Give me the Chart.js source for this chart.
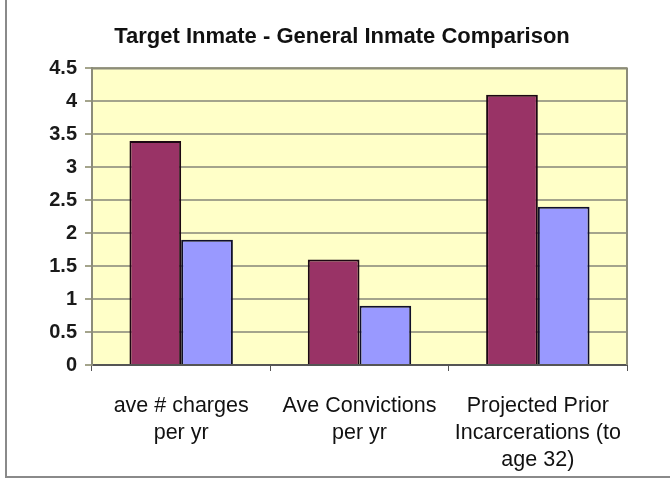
<!DOCTYPE html>
<html>
<head>
<meta charset="utf-8">
<script src="https://cdn.jsdelivr.net/npm/chart.js@4/dist/chart.umd.min.js"></script>
<style>
  html, body { margin:0; padding:0; background:#fff; overflow:hidden; }
  #wrap { position:relative; width:670px; height:480px; overflow:hidden; }
  #frame { position:absolute; left:5px; top:-4px; width:670px; height:482px; border-left:2px solid #8a8a8a; border-bottom:2px solid #8a8a8a; box-sizing:border-box; }
  canvas { position:absolute; left:0; top:0; }
</style>
</head>
<body>
<div id="wrap">
  <div id="frame"></div>
  <canvas id="chart" width="670" height="480"></canvas>
</div>
<script>
// ── Données ──
const categories = [
  ['ave # charges', 'per yr'],
  ['Ave Convictions', 'per yr'],
  ['Projected Prior', 'Incarcerations (to', 'age 32)']
];
const targetInmate  = [3.4, 1.6, 4.1];
const generalInmate = [1.9, 0.9, 2.4];
const yMin = 0, yMax = 4.5, yStep = 0.5;

const FONT = "'Liberation Sans', Arial, sans-serif";

// fond jaune + cadre de la zone de tracé
const plotArea = {
  id: 'plotArea',
  beforeDraw(chart) {
    const { ctx, chartArea: a } = chart;
    ctx.save();
    ctx.fillStyle = '#ffffc8';
    ctx.fillRect(a.left, a.top, a.right - a.left, a.bottom - a.top);
    ctx.restore();
  },
  afterDatasetsDraw(chart) {
    const { ctx, chartArea: a } = chart;
    ctx.save();
    ctx.strokeStyle = '#8c8c7a';
    ctx.lineWidth = 2;
    ctx.beginPath();
    ctx.moveTo(a.left, a.top);
    ctx.lineTo(a.right, a.top);
    ctx.lineTo(a.right, a.bottom);
    ctx.stroke();
    ctx.restore();
  }
};

new Chart(document.getElementById('chart'), {
  type: 'bar',
  data: {
    labels: categories,
    datasets: [
      { label: 'Target Inmate', data: targetInmate, backgroundColor: '#993366', borderColor: '#1c0812', borderWidth: 2 },
      { label: 'General Inmate', data: generalInmate, backgroundColor: '#9999ff', borderColor: '#10102a', borderWidth: 2 }
    ]
  },
  options: {
    responsive: false,
    animation: false,
    categoryPercentage: 0.58,
    barPercentage: 1,
    layout: { padding: { left: 14, right: 0, top: 0, bottom: 0 } },
    plugins: {
      legend: { display: false },
      tooltip: { enabled: false },
      title: {
        display: true,
        text: 'Target Inmate - General Inmate Comparison',
        color: '#111',
        font: { family: FONT, size: 22, weight: 'bold' },
        padding: { top: 24, bottom: 18 }
      }
    },
    scales: {
      x: {
        afterFit: s => { s.height = 115; },
        grid: { display: true, drawOnChartArea: false, tickLength: 6, color: '#555', offset: true },
        border: { display: true, color: '#555', width: 2 },
        ticks: { color: '#111', font: { family: FONT, size: 21.5, lineHeight: 1.27 }, padding: 21, maxRotation: 0, autoSkip: false }
      },
      y: {
        min: yMin, max: yMax,
        afterFit: s => { s.width = 78; },
        grid: { color: '#a4a48c', lineWidth: 2, tickLength: 7 },
        border: { display: true, color: '#8c8c7a', width: 2 },
        ticks: { stepSize: yStep, color: '#1a1a1a', font: { family: FONT, size: 20, weight: 'bold' }, padding: 8, callback: v => String(v) }
      },
      // marge droite vide (le titre reste centré sur toute la largeur)
      spacer: {
        type: 'linear', position: 'right',
        afterFit: s => { s.width = 43; },
        grid: { display: false },
        border: { display: false },
        ticks: { display: false }
      }
    }
  },
  plugins: [plotArea]
});
</script>
</body>
</html>
